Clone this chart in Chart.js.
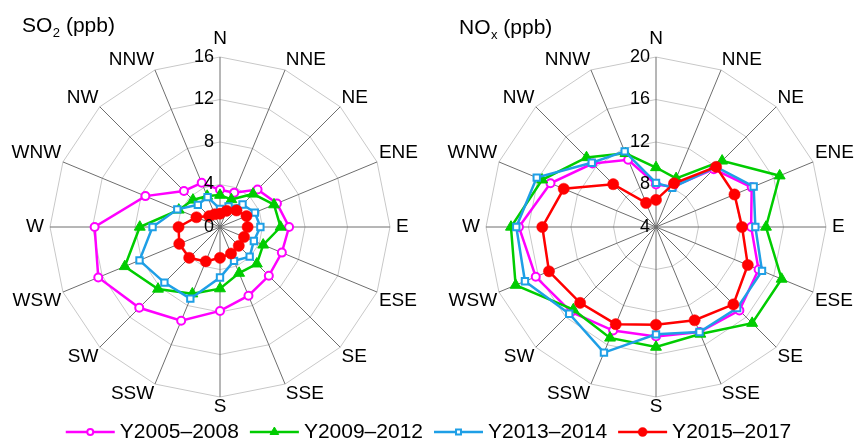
<!DOCTYPE html>
<html>
<head>
<meta charset="utf-8">
<script src="https://cdn.jsdelivr.net/npm/chart.js@4.4.1/dist/chart.umd.min.js"></script>
<style>
  html, body { margin: 0; padding: 0; background: #ffffff; }
  #wrap { position: relative; width: 857px; height: 443px; overflow: hidden; }
  #wrap canvas { position: absolute; left: 0; top: 0; }
</style>
</head>
<body>
<div id="wrap">
  <canvas id="so2Chart" width="857" height="443"></canvas>
  <canvas id="noxChart" width="857" height="443"></canvas>
</div>
<script>
// Wind sectors, clockwise from north
const directions = ['N', 'NNE', 'NE', 'ENE', 'E', 'ESE', 'SE', 'SSE',
                    'S', 'SSW', 'SW', 'WSW', 'W', 'WNW', 'NW', 'NNW'];

// Period names
const periods = ['Y2005\u20132008', 'Y2009\u20132012', 'Y2013\u20132014', 'Y2015\u20132017'];

// SO2 mean concentration by wind sector (ppb)
const so2P1 = [3.5, 3.5, 5.0, 5.8, 6.5, 6.3, 6.5, 7.0, 7.9, 9.55, 10.75, 12.4, 11.8, 7.6, 4.8, 4.5];
const so2P2 = [3.0, 2.8, 4.4, 5.5, 5.7, 4.4, 4.9, 4.7, 5.8, 6.8, 8.25, 9.7, 7.55, 4.2, 3.6, 3.15];
const so2P3 = [1.7, 2.1, 3.0, 3.55, 3.8, 3.45, 3.95, 3.45, 4.75, 7.3, 7.4, 8.2, 6.35, 4.35, 2.95, 3.05];
const so2P4 = [1.25, 1.65, 2.2, 2.7, 2.6, 2.45, 2.5, 2.7, 2.9, 3.5, 4.1, 4.15, 3.9, 2.4, 1.45, 1.3];

// NOx mean concentration by wind sector (ppb)
const noxP1 = [8.0, 8.1, 11.7, 13.75, 12.95, 14.45, 15.1, 14.7, 14.3, 14.55, 15.3, 16.25, 16.9, 14.75, 12.45, 10.85];
const noxP2 = [9.6, 8.95, 12.8, 16.6, 14.35, 16.8, 16.8, 14.9, 15.3, 15.3, 15.0, 18.3, 17.65, 15.6, 13.25, 11.5];
const noxP3 = [8.15, 8.0, 12.0, 13.95, 13.35, 14.8, 14.8, 14.7, 14.1, 16.8, 15.55, 17.35, 17.15, 16.15, 12.55, 11.7];
const noxP4 = [6.55, 8.45, 12.0, 12.0, 12.1, 13.35, 14.3, 13.5, 13.2, 13.9, 14.1, 14.9, 14.7, 13.4, 9.7, 6.45];

// Radial tick labels
const so2Ticks = [0, 4, 8, 12, 16];
const noxTicks = [4, 8, 12, 16, 20];

// Marker / line styles per period (drawn bottom to top: first to last)
const periodStyles = [
  { color: '#ff00ff', pointStyle: 'circle',   radius: 4,   fill: '#ffffff', border: 2,   legendRadius: 3.0, order: 4 },
  { color: '#00cc00', pointStyle: 'triangle', radius: 6.3, fill: '#00cc00', border: 1,   legendRadius: 5.0, order: 3 },
  { color: '#1e9fe6', pointStyle: 'rect',     radius: 4.5, fill: '#ffffff', border: 2,   legendRadius: 3.5, order: 2 },
  { color: '#ff0000', pointStyle: 'circle',   radius: 5.6, fill: '#ff0000', border: 0.5, legendRadius: 4.5, order: 1 }
];

const FONT = '"Liberation Sans", Arial, Helvetica, sans-serif';

// Extra radial gap of each sector label beyond the outer ring
const labelPad = [10, 2, 2, 2, 6, 2, 2, 2, 2, 2, 2, 2, 6, 2, 2, 2];

function buildDatasets(seriesList) {
  return seriesList.map((values, k) => {
    const st = periodStyles[k];
    return {
      label: periods[k],
      data: values,
      order: st.order,
      fill: false,
      borderColor: st.color,
      borderWidth: 2.5,
      tension: 0,
      pointStyle: st.pointStyle,
      pointRadius: st.radius,
      pointBackgroundColor: st.fill,
      pointBorderColor: st.color,
      pointBorderWidth: st.border
    };
  });
}

// Sector names and radial tick numbers, placed from the radial scale geometry
const axisTextPlugin = {
  id: 'axisText',
  afterDatasetsDraw(chart) {
    const s = chart.scales.r;
    const ctx = chart.ctx;
    ctx.save();
    ctx.fillStyle = '#000000';

    // sector names
    ctx.font = '19px ' + FONT;
    ctx.textBaseline = 'middle';
    const n = s._pointLabels.length;
    s._pointLabels.forEach((lab, i) => {
      const deg = Math.round(i * 360 / n);
      const p = s.getPointPosition(i, s.drawingArea + labelPad[i]);
      let align = 'center';
      if (deg > 0 && deg < 180) align = 'left';
      else if (deg > 180) align = 'right';
      let y = p.y;
      const half = 8;
      if (deg === 90 || deg === 270) y = p.y;
      else if (deg < 90 || deg > 270) y = p.y - half;
      else y = p.y + half;
      ctx.textAlign = align;
      ctx.fillText(lab, p.x, y);
    });

    // radial tick numbers, left of the north spoke
    ctx.font = '18px ' + FONT;
    ctx.textAlign = 'right';
    s.ticks.forEach(t => {
      const p = s.getPointPositionForValue(0, t.value);
      ctx.fillText(String(t.value), s.xCenter - 6, p.y);
    });
    ctx.restore();
  }
};

// Panel heading with a subscript, e.g. SO2 (ppb)
function headingPlugin(main, sub, rest, x, y) {
  return {
    id: 'heading',
    afterDraw(chart) {
      const ctx = chart.ctx;
      ctx.save();
      ctx.fillStyle = '#000000';
      ctx.textAlign = 'left';
      ctx.textBaseline = 'alphabetic';
      ctx.font = '21px ' + FONT;
      ctx.fillText(main, x, y);
      let cx = x + ctx.measureText(main).width + 0.5;
      ctx.font = '13px ' + FONT;
      ctx.fillText(sub, cx, y + 5);
      cx += ctx.measureText(sub).width;
      ctx.font = '21px ' + FONT;
      ctx.fillText(rest, cx, y);
      ctx.restore();
    }
  };
}

// Shared legend across the bottom, built from the dataset styles
const legendPlugin = {
  id: 'sharedLegend',
  afterDraw(chart) {
    const ctx = chart.ctx;
    const sets = chart.data.datasets;
    const lineLen = 49, gapText = 5, gapItem = 11, yMid = 432;
    ctx.save();
    ctx.font = '21px ' + FONT;
    const widths = sets.map(d => ctx.measureText(d.label).width);
    const total = widths.reduce((a, w) => a + lineLen + gapText + w, 0) + gapItem * (sets.length - 1);
    let x = chart.width / 2 - total / 2;
    sets.forEach((d, k) => {
      const st = periodStyles[k];
      ctx.strokeStyle = st.color;
      ctx.lineWidth = 2.5;
      ctx.beginPath();
      ctx.moveTo(x, yMid);
      ctx.lineTo(x + lineLen, yMid);
      ctx.stroke();
      ctx.fillStyle = st.fill;
      ctx.strokeStyle = st.color;
      ctx.lineWidth = st.border;
      Chart.helpers.drawPoint(ctx, {
        pointStyle: st.pointStyle, radius: st.legendRadius, rotation: 0, borderWidth: st.border
      }, x + lineLen / 2, yMid);
      ctx.fillStyle = '#000000';
      ctx.textAlign = 'left';
      ctx.textBaseline = 'middle';
      ctx.fillText(d.label, x + lineLen + gapText, yMid);
      x += lineLen + gapText + widths[k] + gapItem;
    });
    ctx.restore();
  }
};

function radarOptions(ticks, padding) {
  return {
    responsive: false,
    animation: false,
    events: [],
    layout: { padding },
    plugins: {
      legend: { display: false },
      tooltip: { enabled: false },
      title: { display: false }
    },
    scales: {
      r: {
        min: ticks[0],
        max: ticks[ticks.length - 1],
        afterBuildTicks: scale => { scale.ticks = ticks.map(v => ({ value: v })); },
        ticks: { display: false },
        grid: { color: '#c8c8c8', lineWidth: 1 },
        angleLines: { color: '#6e6e6e', lineWidth: 1 },
        pointLabels: { display: false }
      }
    }
  };
}

new Chart(document.getElementById('so2Chart'), {
  type: 'radar',
  data: { labels: directions, datasets: buildDatasets([so2P1, so2P2, so2P3, so2P4]) },
  options: radarOptions(so2Ticks, { left: 50, top: 57, right: 467, bottom: 46 }),
  plugins: [axisTextPlugin, headingPlugin('SO', '2', ' (ppb)', 22, 32), legendPlugin]
});

new Chart(document.getElementById('noxChart'), {
  type: 'radar',
  data: { labels: directions, datasets: buildDatasets([noxP1, noxP2, noxP3, noxP4]) },
  options: radarOptions(noxTicks, { left: 486, top: 57, right: 31, bottom: 46 }),
  plugins: [axisTextPlugin, headingPlugin('NO', 'x', ' (ppb)', 459, 34)]
});
</script>
</body>
</html>
